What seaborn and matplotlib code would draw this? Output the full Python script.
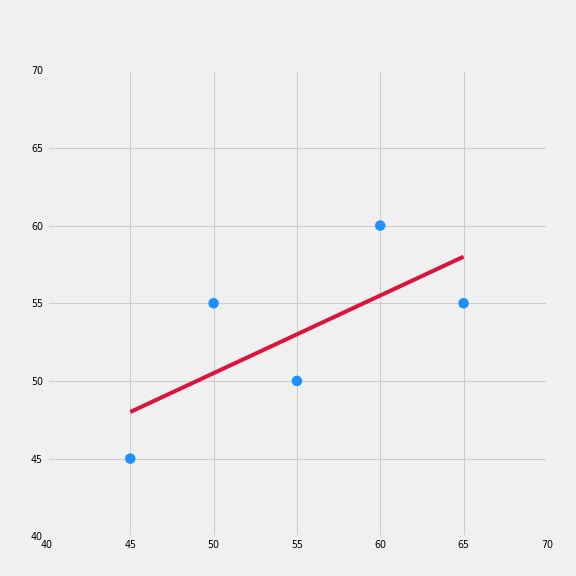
import matplotlib
matplotlib.use('Agg')
import matplotlib.pyplot as plt
import seaborn as sns
import pandas as pd

x_vals = [45, 50, 55, 60, 65]
y_vals = [45, 55, 50, 60, 55]
ticks = [40, 45, 50, 55, 60, 65, 70]

df = pd.DataFrame({'x': x_vals, 'y': y_vals})

plt.style.use('fivethirtyeight')
fig = plt.figure(figsize=(8, 8), dpi=72)
ax = fig.add_axes([0.0815, 0.069, 0.868, 0.809])

sns.regplot(data=df, x='x', y='y', ax=ax, scatter=False, ci=None,
            color='crimson', line_kws={'linewidth': 4})
sns.scatterplot(data=df, x='x', y='y', ax=ax, color='dodgerblue', s=110,
                edgecolor='none', zorder=3)

ax.set_xlim(40, 70)
ax.set_ylim(40, 70)
ax.set_xticks(ticks)
ax.set_yticks(ticks)
ax.tick_params(labelsize=9.5, pad=4)
ax.set_xlabel('')
ax.set_ylabel('')
# edge spines in background colour hide the outer grid lines
for s in ax.spines.values():
    s.set_color('#f0f0f0')
    s.set_linewidth(3)

fig.savefig('out.png', facecolor='#f0f0f0')
